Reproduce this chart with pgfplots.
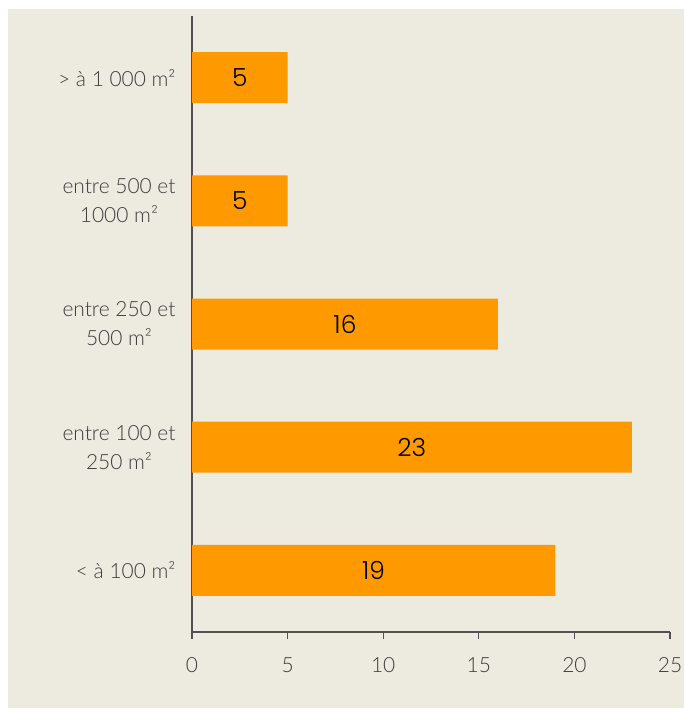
\documentclass[border=0pt]{standalone}
\usepackage{pgfplots}
\usepackage{pgfplotstable}
\pgfplotsset{compat=1.18}
\usepackage{fontspec}
\setmainfont{Lato Light}
\newfontfamily\numfont{Poppins Light}
\definecolor{bg}{HTML}{EDEBE0}
\definecolor{barorange}{HTML}{FF9900}
\definecolor{axisgray}{HTML}{505050}
\definecolor{labgray}{HTML}{3A3A3A}

\pgfplotstableread{
y v
0 19
1 23
2 16
3 5
4 5
}\surfaces

\begin{document}
\begin{tikzpicture}
\fill[white] (0,0) rectangle (684bp,-709bp);
\fill[bg] (8bp,-9bp) rectangle (684bp,-708bp);
\begin{axis}[
  at={(192bp,-632bp)}, anchor=south west,
  scale only axis,
  width=478bp, height=616bp,
  xbar, bar width=51bp, bar shift=0pt,
  xmin=0, xmax=25,
  ymin=-0.5, ymax=4.5,
  axis x line=bottom, axis y line=left,
  axis line style={axisgray, line width=1.4pt, -},
  xtick={0,5,...,25},
  ytick={0,1,2,3,4},
  yticklabels={{< à 100 m²},{entre 100 et\\250 m²},{entre 250 et\\500 m²},{entre 500 et\\1000 m²},{> à 1 000 m²}},
  /pgf/number format/assume math mode=true,
  tick align=outside,
  x tick style={axisgray, line width=1.2pt},
  major tick length=7bp,
  y tick style={draw=none},
  xticklabel style={labgray, font=\fontsize{21}{24}\selectfont, yshift=-15bp},
  yticklabel style={labgray, font=\fontsize{21}{29}\selectfont, align=center, xshift=-6bp},
  clip=false,
]
\addplot[fill=barorange, draw=none] table[x=v, y=y] {\surfaces};
\addplot[draw=none, fill=none, mark=none, nodes near coords, point meta=explicit symbolic,
  nodes near coords style={anchor=center, black, font=\numfont\fontsize{25}{28}\selectfont}]
  table[x expr=\thisrow{v}/2, y=y, meta=v] {\surfaces};
\end{axis}
\pgfresetboundingbox
\useasboundingbox (0,0) rectangle (684bp,-709bp);
\end{tikzpicture}
\end{document}
